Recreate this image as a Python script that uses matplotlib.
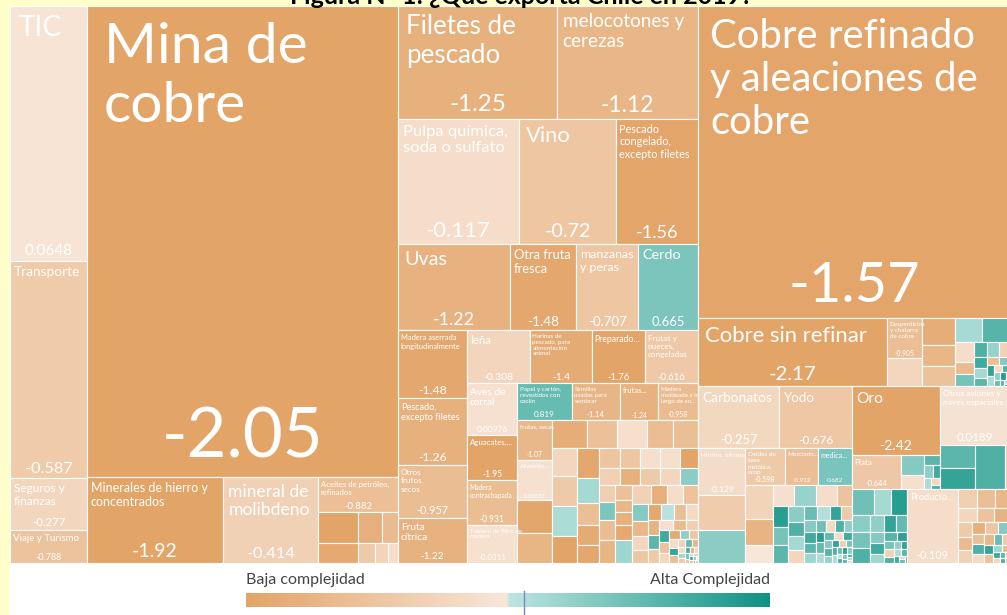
import numpy as np
import matplotlib.pyplot as plt
from matplotlib.patches import Rectangle
from matplotlib.colors import LinearSegmentedColormap, TwoSlopeNorm

titulo = "Figura N° 1: ¿Qué exporta Chile en 2019?"

# (etiqueta, exportaciones en millones de USD, indice de complejidad)
# etiqueta None -> celda sin texto, "" -> solo el valor
servicios = [("TIC", 2454, 0.0648), ("Transporte", 2098, -0.587),
             ("Seguros y\nfinanzas", 500, -0.277), ("Viaje y Turismo", 318, -0.788)]

mina = ("Mina de\ncobre", 18349, -2.05)
fila_hierro = [("Minerales de hierro y\nconcentrados", 1462, -1.92),
               ("mineral de\nmolibdeno", 1021, -0.414)]
aceites = ("Aceites de petróleo,\nrefinados", 350, -0.882)
aceites_f1 = [(None, 155, -1.62), (None, 93, -1.3), (None, 62, -1.0)]
aceites_f2 = [(None, 100, -1.45), (None, 42, -0.6), (None, 33, -0.35), (None, 25, -0.1)]

c_fila1 = [("Filetes de\npescado", 2246, -1.25), ("melocotones y\ncerezas", 1992, -1.12)]
c_fila2 = [("Pulpa química,\nsoda o sulfato", 1891, -0.117), ("Vino", 1516, -0.72),
           ("Pescado\ncongelado,\nexcepto filetes", 1281, -1.56)]
c_fila3 = [("Uvas", 1218, -1.22), ("Otra fruta\nfresca", 718, -1.48),
           ("manzanas\ny peras", 674, -0.707), ("Cerdo", 653, 0.665)]
c_col_madera = [("Madera aserrada\nlongitudinalmente", 587, -1.48),
                ("Pescado,\nexcepto filetes", 578, -1.26),
                ("Otros\nfrutos\nsecos", 457, -0.957), ("Fruta\ncítrica", 388, -1.22)]
c_fila_lena = [("leña", 417, -0.308), ("Harinas de\npescado, para\nalimentación\nanimal", 411, -1.4),
               ("Preparado...", 351, -1.76), ("Frutas y\nnueces,\ncongeladas", 351, -0.616)]
c_col_aves = [("Aves de\ncorral", 325, 0.00976), ("Aguacates,...", 281, -1.95),
              ("Madera\ncontrachapada", 281, -0.931), ("Tablero de fibra de\nmadera", 237, -0.0311)]
c_fila_papel = [("Papel y cartón,\nrevestidos con\ncaolín", 254, 0.819),
                ("Semillas\nusadas para\nsembrar", 222, -1.14), ("frutas...", 176, -1.24),
                ("Madera\nmoldeada a lo\nlargo de su...", 185, -0.958)]
c_col_secas = [("frutas, secas", 175, -1.07), ("Alimento...", 175, 0.00837),
               (None, 144, -1.55), (None, 131, -1.15)]
c_fila_a = [(None, 122, -1.35), (None, 105, -0.85), (None, 105, -0.05), (None, 91, -0.95), (None, 88, -0.9)]
c_col_a = [(None, 88, -0.3), (None, 94, -0.6), (None, 94, 0.3), (None, 84, -1.6)]
c_col_b = [(None, 82, -1.5), (None, 69, 0.35), (None, 60, -0.9), (None, 55, -1.4), (None, 50, -1.5)]
c_fila_b = [(None, 52, -0.75), (None, 50, -0.7), (None, 50, -0.05), (None, 50, -0.05), (None, 45, -1.6)]
c_fila_c = [(None, 45, -0.45), (None, 42, -1.25), (None, 42, -0.6), (None, 42, -0.3), (None, 38, 0.55)]
c_col_c = [(None, 34, -0.5), (None, 36, 0.65), (None, 40, -0.95), (None, 46, -1.15)]
c_col_d = [(None, 32, -0.85), (None, 26, -1.1), (None, 28, -1.25), (None, 32, -1.45), (None, 48, 0.4)]
c_resto_val = [45, 40, 39, 36, 33, 30, 28, 27, 25, 24, 23, 22, 21, 20, 19, 18, 17, 16, 15, 14, 13, 12,
               11, 10, 9, 8, 8, 7, 6, 6, 5, 5, 4, 4, 3, 3, 3, 2, 2, 2, 2, 1.5, 1.5, 1, 1, 1]
c_resto_eci = [-0.4, -1.3, -0.1, -0.8, 0.6, -1.1, -0.3, -0.7, -1.5, 0.2, -0.9, -0.2, -1.2, 0.9, -0.6,
               -0.05, -1.0, -0.5, 1.1, -0.8, -0.3, -1.4, 0.5, -0.7, -0.1, 1.2, -0.9, -0.4, 0.8, -1.1,
               -0.2, 0.4, -0.6, 1.0, -1.3, -0.3, 0.7, -0.8, 0.3, -0.5, 1.1, -1.0, 0.6, -0.2, 0.9, -0.7]

d_cobre = ("Cobre refinado\ny aleaciones de\ncobre", 12207, -1.57)
d_sin_refinar = ("Cobre sin refinar", 1606, -2.17)
d_col_desp = [("Desperdicios\ny chatarra\nde cobre", 175, -0.905), (None, 122, -0.3)]
d_col_113 = [(None, 111, -1.35), ("", 87, -1.13), ("", 82, -0.81)]
d_fila_032 = [("", 81, 0.32), (None, 84, 0.95)]
d_mix_val = [45, 30, 28, 25, 22, 20, 18, 16, 14, 12, 11, 10, 9, 8, 7, 6, 5, 5, 4, 3, 3, 2]
d_mix_eci = [-0.1, -1.0, 0.7, 1.0, 0.45, -0.4, 1.1, 0.35, 0.9, -0.9, 0.6, 1.2, 0.3, -0.2, 1.0,
             0.5, 0.8, 1.3, 0.4, 0.9, 0.2, 1.1]
d_fila_carb = [("Carbonatos", 628, -0.257), ("Yodo", 566, -0.676)]
d_col_nitr = [("Nitritos, nitratos", 276, -0.129), (None, 206, -0.55), (None, 194, 0.55)]
d_fila_oxid = [("Óxidos de\nbase\nmetálica,\nncop", 185, -0.598), ("Mezclado...", 153, -0.912),
               ("medica...", 157, 0.682)]
d_col_118 = [(None, 119, -0.35), ("", 91, -1.18), ("", 63, 0.136)]
d_fila_045 = [(None, 55, -0.05), ("", 58, 0.45), (None, 55, -0.1), (None, 39, -0.8)]
d_teal1_val = [40, 36, 34, 30, 28, 26, 25, 24, 22, 20, 20, 18, 17, 16, 15, 14, 13, 12, 12, 11, 11,
               10, 10, 9, 9, 8, 8, 7, 7, 6, 6, 5, 5, 4, 4, 4, 3, 3, 3, 2, 2, 2, 2]
d_teal1_eci = [1.3, 0.7, 0.9, 0.55, 1.0, 0.35, -0.3, 0.8, 0.25, 1.2, -0.6, 0.6, 1.1, 0.9, 0.4, 0.75,
               -0.2, 1.0, 0.5, 1.3, 0.85, 0.3, 0.85, -0.1, 1.1, 0.6, 0.95, 0.45, 1.2, -0.5, 0.7, 1.0,
               0.3, 0.8, 1.25, 0.55, 0.2, 1.0, 0.65, 0.9, 1.1, 0.4, -0.2]
d_oro = ("Oro", 759, -2.42)
d_plata = ("Plata", 208, -0.644)
d_col_plata = [(None, 57.5, 0.6), (None, 40, -0.05)]
d_plata_mini_val = [20, 14, 12, 10, 8, 4]
d_plata_mini_eci = [0.9, 0.5, 1.1, 0.3, -0.3, 1.0]
d_aviones = ("Otros aviones y\nnaves espaciales", 516, 0.0189)
d_col_12 = [(None, 100, 0.9), ("", 92, 1.2)]
d_aviones_resto = [(None, 165, 1.0), (None, 28, -0.5)]
d_teal2_val = [70, 55, 50, 40, 38, 34, 30, 26, 24, 20, 18, 16, 14, 12, 10, 9, 8, 7, 6, 5, 5, 4, 3, 3, 2]
d_teal2_eci = [0.75, 0.35, 1.3, 0.55, 0.7, 1.0, 0.5, 1.2, 0.85, 0.6, 1.1, 0.4, 0.95, 1.25, 0.7,
               -0.4, 1.0, 0.5, 1.2, 0.3, 0.9, 1.1, -0.3, 0.8, 1.0]
d_producto = ("Producto...", 472, -0.109)
d_naranja_val = [45, 40, 36, 32, 30, 28, 26, 24, 22, 20, 19, 18, 16, 15, 14, 13, 12, 11, 10, 9, 8,
                 7, 6, 5, 4, 4, 3, 2, 1]
d_naranja_eci = [-0.5, -0.9, -1.1, -0.3, -0.8, -1.2, -0.6, -1.0, -0.4, -1.3, -0.7, 0.6, -0.9, 1.0,
                 -0.2, -1.1, 0.8, -0.6, 1.2, -0.8, 0.4, -1.0, 1.1, -0.3, 0.9, -0.7, 1.0, -0.5, 0.7]


def H(*hijos):
    return ['H', list(hijos)]

def V(*hijos):
    return ['V', list(hijos)]

def S(vals, ecis):
    return ['S', [(None, v, e) for v, e in zip(vals, ecis)]]

def total(n):
    if isinstance(n, tuple):
        return n[1]
    return sum(total(c) for c in n[1])

def peor(fila, lado):
    s = sum(fila)
    return max(max(lado**2 * r / s**2, s**2 / (lado**2 * r)) for r in fila)

def squarify(vals, x, y, w, h):
    esc = w * h / sum(vals)
    areas = [v * esc for v in vals]
    rects = []
    i = 0
    while i < len(areas):
        lado = min(w, h)
        fila = [areas[i]]
        i += 1
        while i < len(areas) and peor(fila + [areas[i]], lado) <= peor(fila, lado):
            fila.append(areas[i])
            i += 1
        s = sum(fila)
        if w >= h:
            cw = s / h
            yy = y
            for a in fila:
                rects.append((x, yy, cw, a / cw))
                yy += a / cw
            x += cw
            w -= cw
        else:
            rh = s / w
            xx = x
            for a in fila:
                rects.append((xx, y, a / rh, rh))
                xx += a / rh
            y += rh
            h -= rh
    return rects

celdas = []
def ubicar(n, x, y, w, h):
    if isinstance(n, tuple):
        celdas.append((x, y, w, h, n))
        return
    tipo, hijos = n
    if tipo == 'S':
        for r, hoja in zip(squarify([t[1] for t in hijos], x, y, w, h), hijos):
            celdas.append((*r, hoja))
        return
    T = total(n)
    for c in hijos:
        if tipo == 'H':
            cw = w * total(c) / T
            ubicar(c, x, y, cw, h)
            x += cw
        else:
            ch = h * total(c) / T
            ubicar(c, x, y, w, ch)
            y += ch


col_a = V(*servicios)
col_b = V(mina, H(*fila_hierro, V(aceites, H(*aceites_f1), H(*aceites_f2))))
col_c = V(H(*c_fila1), H(*c_fila2), H(*c_fila3),
          H(V(*c_col_madera),
            V(H(*c_fila_lena),
              H(V(*c_col_aves),
                V(H(*c_fila_papel),
                  H(V(*c_col_secas),
                    V(H(*c_fila_a),
                      H(V(*c_col_a), V(*c_col_b),
                        V(H(*c_fila_b), H(*c_fila_c),
                          H(V(*c_col_c), V(*c_col_d), S(c_resto_val, c_resto_eci)))))))))))
izq = V(H(*d_fila_carb),
        H(V(*d_col_nitr),
          V(H(*d_fila_oxid),
            H(V(*d_col_118), V(H(*d_fila_045), S(d_teal1_val, d_teal1_eci))))))
der = V(H(V(d_oro, H(d_plata, V(*d_col_plata), S(d_plata_mini_val, d_plata_mini_eci))),
          V(d_aviones, H(V(*d_col_12), *d_aviones_resto))),
        H(S(d_teal2_val, d_teal2_eci), d_producto, S(d_naranja_val, d_naranja_eci)))
col_d = V(d_cobre,
          H(d_sin_refinar, V(*d_col_desp), V(*d_col_113), V(H(*d_fila_032), S(d_mix_val, d_mix_eci))),
          H(izq, der))
arbol = H(col_a, col_b, col_c, col_d)

ubicar(arbol, 10, 6, 1000, 557)

cmap = LinearSegmentedColormap.from_list(
    'eci', [(0, '#E3A468'), (0.4999, '#F8E7DA'), (0.5, '#BFE5E1'), (1, '#0E9283')])
norm = TwoSlopeNorm(vmin=-1.6, vcenter=0.15, vmax=1.5)

FONT = ['Lato', 'DejaVu Sans']
PX = 100 / 72

fig = plt.figure(figsize=(10.07, 6.15), dpi=100, facecolor='white')
ax = fig.add_axes([0, 0, 1, 1])
ax.set_xlim(0, 1007)
ax.set_ylim(615, 0)
ax.axis('off')
rend = fig.canvas.get_renderer()

def ancho(s, weight='normal'):
    t = ax.text(0, 0, s, fontsize=10, family=FONT, weight=weight)
    e = t.get_window_extent(renderer=rend).width
    t.remove()
    return e / 10

ax.add_patch(Rectangle((0, 0), 1007, 6, facecolor='#FFFFCC', lw=0))
ax.add_patch(Rectangle((0, 0), 10, 615, facecolor='#FFFFCC', lw=0))

for x, y, w, h, (lab, val, eci) in celdas:
    rect = Rectangle((x, y), w, h, facecolor=cmap(norm(np.clip(eci, -1.6, 1.5))),
                     edgecolor='white', lw=0.8)
    ax.add_patch(rect)
    if lab is None:
        continue
    area = w * h
    txt = f"{eci:.3g}"
    fsv = min(0.18 * np.sqrt(area) / PX, 0.62 * w / ancho(txt), 50)
    if fsv * PX >= 5 and h >= 12:
        ax.text(x + w / 2, y + h - 0.27 * fsv * PX - 1, txt, ha='center', va='baseline',
                fontsize=fsv, family=FONT, color='white')
    if lab and w >= 28 and h >= 18:
        lineas = lab.split('\n')
        fs_w = 0.86 * w / max(ancho(l) for l in lineas)
        fs_h = 0.55 * h / (len(lineas) * 1.2 * PX)
        fs_a = 0.2 * np.sqrt(area) / PX
        fs = max(min(fs_w, fs_h, fs_a, 41), 4.5)
        t = ax.text(x + max(2.5, 0.3 * fs * PX), y + 0.25 * fs * PX + 2, lab, ha='left', va='top',
                    fontsize=fs, family=FONT, color='white')
        t.set_clip_path(rect)

# titulo (recortado por el borde superior)
fs_t = 462 / ancho(titulo, 'bold')
ax.text(521, 3.5, titulo, ha='center', va='baseline', fontsize=fs_t, family=FONT,
        weight='bold', color='black')

# leyenda
ax.imshow(np.linspace(0, 1, 256)[None, :], extent=(246, 770, 607, 593), cmap=cmap,
          aspect='auto', interpolation='bilinear')
ax.plot([524, 524], [591, 615], color='#7A86C2', lw=1)
ax.text(246, 584, "Baja complejidad", ha='left', va='baseline', fontsize=11.5,
        family=FONT, color='#444444')
ax.text(770, 584, "Alta Complejidad", ha='right', va='baseline', fontsize=11.5,
        family=FONT, color='#444444')
ax.set_xlim(0, 1007)
ax.set_ylim(615, 0)

fig.savefig('out.png', dpi=100, facecolor='white')
